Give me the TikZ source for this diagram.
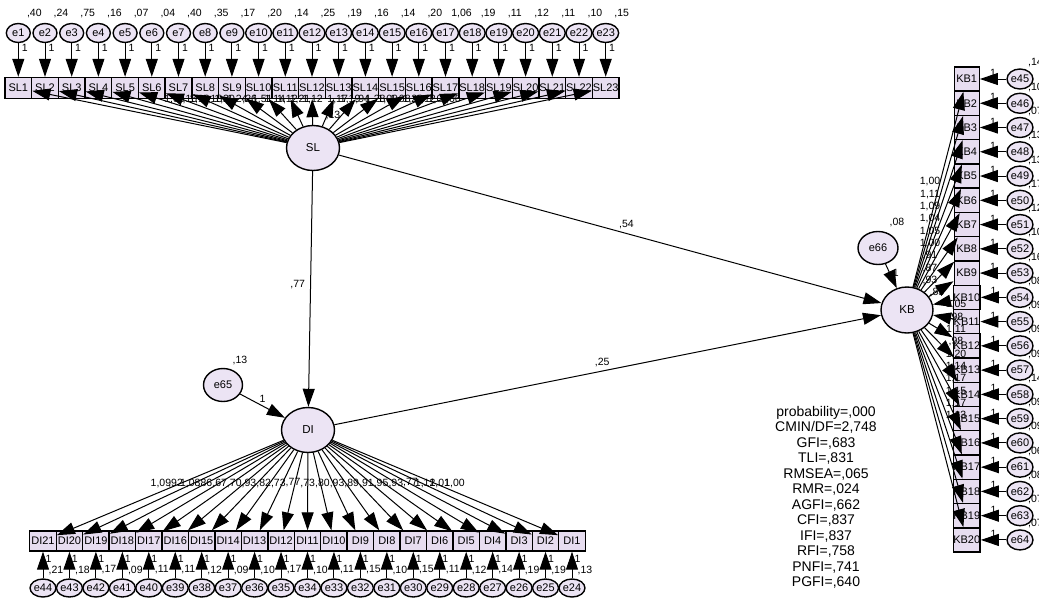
\documentclass[tikz,border=0pt]{standalone}
\usepackage{fontspec}
\setmainfont{Liberation Sans}
\usetikzlibrary{arrows.meta,shapes.geometric,calc}
\definecolor{amosfill}{RGB}{236,228,244}
\definecolor{amosbox}{RGB}{231,221,240}

\begin{document}
\begin{tikzpicture}[x=1pt,y=-1pt,
    latent/.style={ellipse, draw, line width=1.4pt, fill=amosfill, inner sep=0pt,
        minimum width=53pt, minimum height=45pt, font=\fontsize{11.5}{12}\selectfont},
    err/.style={ellipse, draw, line width=1.4pt, fill=amosfill, inner sep=0pt,
        minimum width=24pt, minimum height=19pt, font=\fontsize{11}{12}\selectfont},
    resid/.style={err, minimum width=39pt, minimum height=33pt},
    obs/.style={rectangle, draw, line width=1.4pt, fill=amosbox, inner sep=0pt,
        font=\fontsize{11}{12}\selectfont},
    regarrow/.style={-{Triangle[length=18pt,width=12pt]}, line width=1pt},
    est/.style={font=\fontsize{10.5}{11}\selectfont, inner sep=1pt},
]
    % Canvas
    \fill[white] (0,0) rectangle (1039,600);
    \useasboundingbox (0,0) rectangle (1039,600);

    % Latent variables
    \node[latent] (SL) at (313,148) {SL};
    \node[latent] (DI) at (308,430) {DI};
    \node[latent, minimum width=52pt, minimum height=46pt] (KB) at (907,310) {KB};

    % SL indicators with their errors
    \foreach \i/\v in {1/{,40},2/{,24},3/{,75},4/{,16},5/{,07},6/{,04},7/{,40},8/{,35},
        9/{,17},10/{,20},11/{,14},12/{,25},13/{,19},14/{,16},15/{,14},16/{,20},
        17/{1,06},18/{,19},19/{,11},20/{,12},21/{,11},22/{,10},23/{,15}} {
        \pgfmathsetmacro\xx{18.3+26.7*(\i-1)}
        \node[err] (e\i) at (\xx,33) {e\i};
        \node[obs, minimum width=26.7pt, minimum height=21pt] (SL\i) at (\xx,88) {SL\i};
        \draw[regarrow] (e\i) -- (SL\i) node[est, pos=0.15, right=2pt] {1};
        \node[est] at (\xx+16,14) {\v};
    }
    \foreach \i/\w in {1/{1,09},2/{1,16},3/{1,10},4/{1,18},5/{1,20},6/{1,24},7/{,26},
        8/{1,51},9/{1,14},10/{1,12},11/{1,21},12/{1,12},13/{,13},14/{1,17},15/{1,19},
        16/{,94},17/{1,28},18/{1,09},19/{1,08},20/{1,22},21/{1,12},22/{1,00},23/{1,06}} {
        \pgfmathsetmacro\xx{18.3+26.7*(\i-1)}
        \pgfmathsetmacro\lx{ifthenelse(\i==13,333,313+0.47*(\xx-313))}
        \pgfmathsetmacro\ly{ifthenelse(\i==13,116,100)}
        \draw[regarrow] (SL) -- (SL\i);
        \node[est] at (\lx,\ly) {\w};
    }

    % DI indicators with their errors
    \foreach \k/\v in {1/{,13},2/{,19},3/{,19},4/{,14},5/{,12},6/{,11},7/{,15},8/{,10},
        9/{,15},10/{,11},11/{,10},12/{,17},13/{,10},14/{,09},15/{,12},16/{,11},
        17/{,11},18/{,09},19/{,17},20/{,18},21/{,21}} {
        \pgfmathsetmacro\xx{43+26.45*(21-\k)}
        \pgfmathtruncatemacro\n{23+\k}
        \node[obs, minimum width=26.45pt, minimum height=20pt] (DI\k) at (\xx,541) {DI\k};
        \node[err, minimum width=25pt, minimum height=18pt] (e\n) at (\xx,588) {e\n};
        \draw[regarrow] (e\n) -- (DI\k) node[est, pos=0.72, right=1pt] {1};
        \node[est] at (\xx+13,570) {\v};
    }
    \foreach \k/\w in {1/{1,00},2/{1,01},3/{1,12},4/{,77},5/{,93},6/{,95},7/{,91},
        8/{,89},9/{,93},10/{,80},11/{,73},12/{,77},13/{,73},14/{,82},15/{,93},
        16/{,70},17/{,67},18/{,86},19/{1,08},20/{,92},21/{1,09}} {
        \pgfmathsetmacro\xx{43+26.45*(21-\k)}
        \draw[regarrow] (DI) -- (DI\k);
        \node[est] at ({308+0.555*(\xx-308)},483) {\w};
    }

    % KB indicators with their errors
    \foreach \j/\v in {1/{,14},2/{,10},3/{,07},4/{,13},5/{,13},6/{,17},7/{,12},8/{,10},
        9/{,16},10/{,08},11/{,09},12/{,09},13/{,09},14/{,14},15/{,09},16/{,09},
        17/{,06},18/{,08},19/{,07},20/{,07}} {
        \pgfmathsetmacro\yy{79+24.26*(\j-1)}
        \pgfmathtruncatemacro\n{44+\j}
        \node[obs, minimum width=25pt, minimum height=24.26pt] (KB\j) at (966.7,\yy) {KB\j};
        \node[err, minimum height=20pt] (e\n) at (1020,\yy) {e\n};
        \draw[regarrow] (e\n) -- (KB\j) node[est, midway, above=1pt] {1};
        \node[est, anchor=west] at (1027,\yy-16) {\v};
    }
    \foreach \j/\w in {1/{1,00},2/{1,11},3/{1,09},4/{1,04},5/{1,05},6/{1,00},7/{,91},
        8/{,87},9/{,93},10/{,85},11/{1,05},12/{,98},13/{1,11},14/{,98},15/{1,20},
        16/{1,14},17/{1,17},18/{1,15},19/{1,17},20/{1,13}} {
        \pgfmathsetmacro\lx{ifthenelse(\j<10,930,ifthenelse(\j==10,937,956))}
        \pgfmathsetmacro\ly{182+12.3*(\j-1)}
        \ifnum\j=10 \draw[regarrow] (KB\j) -- (KB);
        \else\ifnum\j=11 \draw[regarrow] (KB\j) -- (KB);
        \else \draw[regarrow] (KB) -- (KB\j);
        \fi\fi
        \node[est] at (\lx,\ly) {\w};
    }

    % Structural residuals
    \node[resid] (e65) at (223,385) {e65};
    \node[est] at (240,360) {,13};
    \draw[regarrow] (e65) -- (DI) node[est, pos=0.5, above=2pt] {1};
    \node[resid, minimum width=40pt] (e66) at (878,248) {e66};
    \node[est] at (897,223) {,08};
    \draw[regarrow] (e66) -- (KB) node[est, pos=0.35, right=2pt] {1};

    % Structural paths
    \draw[regarrow] (SL) -- (KB) node[est, pos=0.53, above=3pt] {,54};
    \draw[regarrow] (SL) -- (DI) node[est, pos=0.48, left=4pt] {,77};
    \draw[regarrow] (DI) -- (KB) node[est, pos=0.49, above=3pt] {,25};

    % Fit statistics
    \node[align=center, font=\fontsize{14}{15.5}\selectfont] (fit) at (826,497.5)
        {probability=,000\\CMIN/DF=2,748\\GFI=,683\\TLI=,831\\RMSEA=,065\\RMR=,024\\
         AGFI=,662\\CFI=,837\\IFI=,837\\RFI=,758\\PNFI=,741\\PGFI=,640};
\end{tikzpicture}
\end{document}
